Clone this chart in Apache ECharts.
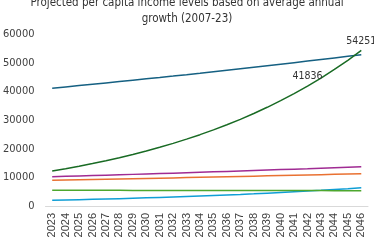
<!DOCTYPE html>
<html>
<head>
<meta charset="utf-8">
<script src="https://cdn.jsdelivr.net/npm/echarts@6/dist/echarts.min.js"></script>
<style>
html,body{margin:0;padding:0;background:#fff;}
#chart{width:374px;height:248px;}
</style>
</head>
<body>
<div id="chart"></div>
<script>
var years = ['2023','2024','2025','2026','2027','2028','2029','2030','2031','2032','2033','2034','2035','2036','2037','2038','2039','2040','2041','2042','2043','2044','2045','2046'];
var highIncome = [41100,41550,42005,42465,42930,43400,43875,44355,44840,45331,45827,46329,46836,47349,47867,48391,48921,49456,49998,50545,51098,51658,52223,52795];
var brazil = [8960,9050,9141,9232,9325,9418,9513,9608,9704,9802,9900,9999,10099,10201,10303,10406,10510,10616,10722,10829,10938,11048,11158,11270];
var china = [12180,12997,13869,14800,15793,16853,17984,19191,20479,21853,23319,24884,26554,28336,30237,32266,34431,36741,39206,41836,44644,47640,50836,54251];
var india = [1990,2093,2202,2316,2436,2563,2696,2835,2982,3137,3300,3471,3651,3841,4040,4250,4470,4702,4946,5203,5473,5757,6055,6370];
var russia = [10220,10351,10484,10618,10754,10892,11032,11173,11316,11461,11608,11757,11908,12060,12215,12371,12530,12690,12853,13018,13184,13353,13524,13698];
var southAfrica = [5480,5474,5469,5463,5457,5452,5446,5440,5435,5429,5423,5418,5412,5406,5401,5395,5390,5384,5378,5373,5367,5362,5356,5350];
var seriesNames = ['High income','Brazil','China','India','Russian Federation','South Africa'];
var chinaLabelIdx = [19, 23];

var FONT = '"Liberation Sans Narrow", "DejaVu Sans Condensed", "Roboto", sans-serif';
var XFONT = '"Liberation Sans", Arial, sans-serif';
var colors = ['#156082','#E97132','#196B24','#0F9ED5','#A02B93','#4EA72E'];
var allData = [highIncome, brazil, china, india, russia, southAfrica];

var series = allData.map(function(arr, i){
  var data = arr.map(function(v, j){
    if (i === 2 && chinaLabelIdx.indexOf(j) >= 0) {
      var lbl = {show: true};
      if (j === arr.length - 1) { lbl.offset = [-5, 0]; }
      return {value: v, label: lbl};
    }
    return v;
  });
  return {
    name: seriesNames[i],
    type: 'line',
    data: data,
    showSymbol: true,
    symbol: 'circle',
    symbolSize: 0.1,
    lineStyle: {width: 1.5, color: colors[i]},
    itemStyle: {color: colors[i]},
    label: {show: false, position: 'top', distance: 4, fontFamily: FONT, fontSize: 10.5, color: '#333333'},
    emphasis: {disabled: true},
    labelLayout: {hideOverlap: false},
    z: i === 2 ? 3 : 2
  };
});

var chart = echarts.init(document.getElementById('chart'), null, {renderer: 'canvas'});
chart.setOption({
  animation: false,
  color: colors,
  title: {
    text: 'Projected per capita income levels based on average annual\ngrowth (2007-23)',
    left: 'center',
    top: -10,
    textStyle: {fontFamily: FONT, fontSize: 11.5, fontWeight: 'normal', color: '#333333', lineHeight: 16}
  },
  legend: {
    data: seriesNames,
    top: 245,
    left: 'center',
    icon: 'rect',
    itemWidth: 9,
    itemHeight: 2,
    itemGap: 2,
    textStyle: {fontFamily: FONT, fontSize: 11, color: '#404040'}
  },
  grid: {left: 40, right: 6, top: 34, bottom: 42, containLabel: false},
  xAxis: {
    type: 'category',
    data: years,
    boundaryGap: true,
    axisLine: {lineStyle: {color: '#d9d9d9', width: 1}},
    axisTick: {show: false},
    axisLabel: {rotate: 90, fontFamily: XFONT, fontSize: 11, color: '#404040', margin: 7, interval: 0}
  },
  yAxis: {
    type: 'value',
    min: 0,
    max: 60000,
    interval: 10000,
    splitLine: {show: false},
    axisLine: {show: false},
    axisTick: {show: false},
    axisLabel: {fontFamily: FONT, fontSize: 11, color: '#404040', margin: 11, formatter: function(v){ return String(v); }}
  },
  series: series
});
</script>
</body>
</html>
